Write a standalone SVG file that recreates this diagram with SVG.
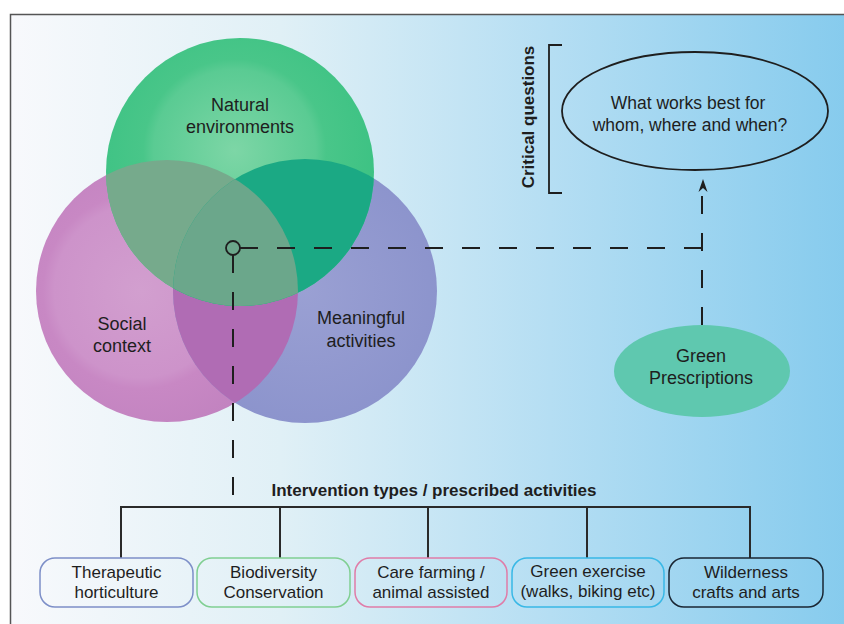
<svg xmlns="http://www.w3.org/2000/svg" width="844" height="624" viewBox="0 0 844 624">
<style>
.t{font-family:"Liberation Sans",Arial,sans-serif;fill:#1e1e1e;text-anchor:middle}
.c18{font-size:18px}
.c17{font-size:17px}
.b{font-weight:bold}
.dash{fill:none;stroke:#1e1e1e;stroke-width:2;stroke-dasharray:18 19}
.tree{fill:none;stroke:#2a2a2a;stroke-width:2}
.box{fill:none;stroke-width:1.5}
</style>
<defs>
<linearGradient id="bg" x1="0" y1="0" x2="1" y2="0">
<stop offset="0" stop-color="#f8f9fc"/>
<stop offset="0.3" stop-color="#e0f0f6"/>
<stop offset="0.6" stop-color="#b5def3"/>
<stop offset="1" stop-color="#7cc7ec"/>
</linearGradient>
<radialGradient id="gGreen" cx="0.48" cy="0.42" r="0.55">
<stop offset="0" stop-color="#7dd6a6"/>
<stop offset="0.55" stop-color="#5acb93"/>
<stop offset="0.62" stop-color="#49c689"/>
<stop offset="1" stop-color="#3cc283"/>
</radialGradient>
<radialGradient id="gPink" cx="0.4" cy="0.5" r="0.55">
<stop offset="0" stop-color="#d29fcf"/>
<stop offset="0.6" stop-color="#cd93ca"/>
<stop offset="0.68" stop-color="#c888c4"/>
<stop offset="1" stop-color="#c283c0"/>
</radialGradient>
<radialGradient id="gPurple" cx="0.5" cy="0.5" r="0.55">
<stop offset="0" stop-color="#9aa0d3"/>
<stop offset="1" stop-color="#8b93cc"/>
</radialGradient>
<clipPath id="cPink"><circle cx="167" cy="291" r="131"/></clipPath>
<clipPath id="cPurple"><circle cx="305" cy="291" r="132"/></clipPath>
</defs>
<rect x="0" y="0" width="844" height="624" fill="#ffffff"/>
<rect x="10.5" y="14.5" width="900" height="700" fill="url(#bg)" stroke="#555" stroke-width="1.5"/>

<g id="venn">
<g id="social-context">
<circle cx="167" cy="291" r="131" fill="url(#gPink)"/>
</g>
<g id="meaningful-activities">
<circle cx="305" cy="291" r="132" fill="url(#gPurple)"/>
<circle cx="305" cy="291" r="132" fill="#b06cb4" clip-path="url(#cPink)"/>
</g>
<g id="natural-environments">
<circle cx="240" cy="172" r="134" fill="url(#gGreen)"/>
<circle cx="240" cy="172" r="134" fill="#76aa8c" clip-path="url(#cPink)"/>
<circle cx="240" cy="172" r="134" fill="#1ba984" clip-path="url(#cPurple)"/>
<g clip-path="url(#cPink)"><circle cx="240" cy="172" r="134" fill="#6ba78b" clip-path="url(#cPurple)"/></g>
</g>
<text class="t c18" x="240" y="111">Natural</text>
<text class="t c18" x="240" y="133">environments</text>
<text class="t c18" x="122" y="330">Social</text>
<text class="t c18" x="122" y="352">context</text>
<text class="t c18" x="361" y="324">Meaningful</text>
<text class="t c18" x="361" y="347">activities</text>
</g>

<g id="connectors">
<circle cx="233" cy="248" r="7" fill="none" stroke="#1e1e1e" stroke-width="1.8"/>
<path class="dash" d="M240,248 H702 V264"/>
<path class="dash" d="M233,255 V498"/>
<path class="dash" d="M702,325 V190" stroke-dashoffset="0"/>
<path d="M703,179 L707.5,192 L703,188 L698.5,192 Z" fill="#1e1e1e"/>
<path class="tree" d="M121,558 V507 H750 V558 M280,507 V558 M428,507 V558 M587,507 V558"/>
<path d="M562,45 H549 V193 H562" fill="none" stroke="#1e1e1e" stroke-width="1.8"/>
</g>

<g id="critical-questions">
<text class="t b c17" transform="translate(534,117) rotate(-90)" font-size="17.5">Critical questions</text>
</g>

<g id="what-works">
<ellipse cx="695" cy="111" rx="133" ry="59" fill="none" stroke="#1e1e1e" stroke-width="1.8"/>
<text class="t" x="688" y="109" font-size="17.5">What works best for</text>
<text class="t" x="690" y="131" font-size="17.5">whom, where and when?</text>
</g>

<g id="green-prescriptions">
<ellipse cx="702" cy="371" rx="88" ry="46" fill="#5fc8af"/>
<text class="t c18" x="701" y="362">Green</text>
<text class="t c18" x="701" y="384">Prescriptions</text>
</g>

<g id="intervention-title">
<text class="t b c17" x="434" y="496">Intervention types / prescribed activities</text>
</g>

<g id="box-therapeutic">
<rect class="box" x="40" y="558" width="153" height="49" rx="15" stroke="#7d8fc8"/>
<text class="t c17" x="116.5" y="578">Therapeutic</text>
<text class="t c17" x="116.5" y="598">horticulture</text>
</g>
<g id="box-biodiversity">
<rect class="box" x="197" y="558" width="153" height="49" rx="15" stroke="#80cf92"/>
<text class="t c17" x="273.5" y="578">Biodiversity</text>
<text class="t c17" x="273.5" y="598">Conservation</text>
</g>
<g id="box-care-farming">
<rect class="box" x="355" y="558" width="152" height="49" rx="15" stroke="#e07ca8"/>
<text class="t c17" x="431" y="578">Care farming /</text>
<text class="t c17" x="431" y="598">animal assisted</text>
</g>
<g id="box-green-exercise">
<rect class="box" x="512" y="558" width="152" height="49" rx="15" stroke="#39b8e6" stroke-width="2"/>
<text class="t c17" x="588" y="577">Green exercise</text>
<text class="t c17" x="588" y="597">(walks, biking etc)</text>
</g>
<g id="box-wilderness">
<rect class="box" x="669" y="558" width="154" height="49" rx="15" stroke="#1a2633" stroke-width="2"/>
<text class="t c17" x="746" y="578">Wilderness</text>
<text class="t c17" x="746" y="598">crafts and arts</text>
</g>
</svg>
